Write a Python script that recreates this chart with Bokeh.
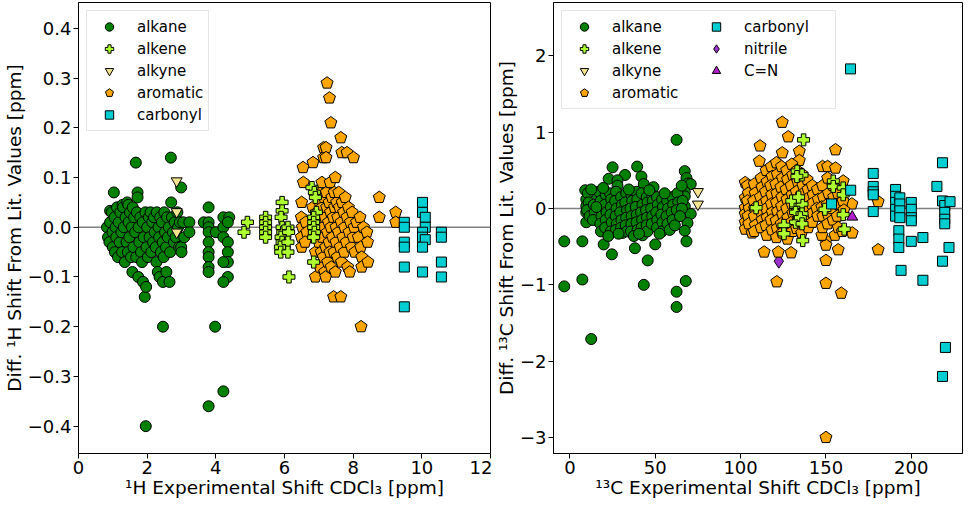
from bokeh.plotting import figure
from bokeh.layouts import row
from bokeh.models import (ColumnDataSource, Span, FixedTicker, CustomJSTickFormatter,
                          Legend, LegendItem, Range1d)
from bokeh.embed import file_html
from bokeh.resources import INLINE

FONT = "DejaVu Sans"

# ---------------- 1H panel data: (experimental shift, difference) ----------------
h_alkane = [(0.83,0.00),(0.86,-0.02),(0.9,-0.03),(0.92,0.01),(0.92,0.033),(0.97,0.03),(0.99,-0.01),(1.0,-0.04),
 (1.03,0.07),(1.05,0.02),(1.06,-0.05),(1.08,0.0),(1.1,-0.02),(1.12,0.04),(1.15,-0.06),(1.17,0.01),(1.2,-0.03),
 (1.22,0.03),(1.25,-0.01),(1.27,-0.05),(1.28,0.045),(1.3,0.04),(1.32,0.0),(1.35,-0.07),(1.37,0.02),(1.4,-0.03),
 (1.42,0.05),(1.44,-0.05),(1.45,0.045),(1.46,0.01),(1.48,-0.02),(1.5,0.03),(1.53,-0.06),(1.55,0.0),(1.57,-0.09),
 (1.58,0.04),(1.6,-0.04),(1.62,0.02),(1.65,-0.01),(1.67,0.13),(1.68,-0.06),(1.7,0.03),(1.72,0.07),(1.72,0.06),
 (1.74,-0.1),(1.75,0.0),(1.77,-0.03),(1.8,0.02),(1.82,-0.05),(1.85,-0.07),(1.87,0.01),(1.88,-0.11),(1.9,-0.02),
 (1.93,-0.14),(1.95,0.03),(1.97,-0.12),(1.98,-0.04),(2.0,0.0),(2.02,-0.06),(2.05,0.02),(2.07,-0.02),(2.1,0.03),
 (2.12,-0.05),(2.15,0.01),(2.17,-0.03),(2.2,0.02),(2.22,-0.01),(2.25,-0.04),(2.27,-0.07),(2.28,0.03),(2.31,-0.09),
 (2.33,0.0),(2.35,-0.02),(2.36,-0.1),(2.38,0.02),(2.4,-0.05),(2.43,0.01),(2.45,-0.03),(2.46,-0.11),(2.48,-0.06),
 (2.5,0.03),(2.52,-0.01),(2.55,-0.04),(2.56,-0.09),(2.58,0.02),(2.6,-0.02),(2.63,0.0),(2.65,-0.11),(2.67,-0.05),
 (2.69,0.14),(2.7,0.05),(2.72,0.02),(2.75,-0.01),(2.78,-0.03),(2.8,0.01),(2.83,-0.02),(2.88,0.03),(2.9,0.0),
 (2.93,-0.04),(2.95,0.01),(2.99,0.08),(2.99,-0.04),(3.0,-0.05),(3.05,0.01),(3.08,-0.02),(3.23,0.01),(3.23,-0.01),
 (3.65,0.01),(3.79,0.04),(3.79,0.01),(3.79,0.0),(3.79,-0.01),(3.79,-0.03),(3.79,-0.05),(3.79,-0.06),(3.79,-0.08),
 (3.79,-0.09),(4.0,-0.01),(4.22,0.02),(4.39,0.02),(4.22,0.0),(4.35,0.01),(4.22,-0.02),(4.35,-0.03),(4.35,-0.05),
 (4.35,-0.07),(4.22,-0.07),(4.35,-0.10),(4.22,-0.11),
 (2.46,-0.2),(3.98,-0.2),(1.96,-0.4),(3.79,-0.36),(4.22,-0.33)]

h_alkene = [(4.92,0.01),(4.82,-0.01),(5.45,0.02),(5.45,0.01),(5.45,0.0),(5.45,-0.01),(5.45,-0.02),
 (5.93,0.05),(5.93,0.033),(5.9,0.02),(5.93,0.0),(5.95,-0.01),(5.9,-0.02),(5.93,-0.03),(5.88,-0.04),(5.89,-0.05),
 (6.1,0.0),(6.12,-0.01),(6.1,-0.03),(6.1,-0.05),(6.13,-0.1),(6.8,0.08),(6.87,0.07),(6.9,0.06),(6.93,0.03),
 (6.85,0.02),(6.85,0.01),(6.85,0.0),(6.87,-0.01),(6.85,-0.02),(6.85,-0.07)]

h_alkyne = [(2.86,0.093),(2.86,0.031),(2.86,-0.01)]

h_aromatic = [(6.5,0.05),(6.49,0.02),(6.52,0.0),(6.49,-0.02),(6.5,-0.04),(6.55,0.09),(6.54,0.12),(6.62,0.01),
 (6.65,-0.01),(6.6,-0.03),(6.82,0.04),(6.83,0.13),(6.9,-0.05),(6.9,-0.1),(6.95,0.03),(6.97,0.01),(6.98,-0.01),
 (7.0,-0.03),(7.0,0.07),(7.02,0.05),(7.03,-0.08),(7.05,0.02),(7.07,-0.05),(7.09,0.09),(7.1,0.04),(7.1,-0.02),
 (7.12,0.0),(7.13,-0.06),(7.14,0.16),(7.14,0.14),(7.15,0.06),(7.17,-0.09),(7.18,0.02),(7.2,-0.04),(7.21,0.16),
 (7.21,0.14),(7.2,-0.1),(7.22,0.07),(7.23,0.04),(7.24,0.29),(7.25,-0.01),(7.26,-0.07),(7.28,0.01),(7.3,0.05),
 (7.31,0.26),(7.3,-0.03),(7.32,-0.05),(7.33,0.09),(7.34,0.03),(7.35,0.21),(7.35,0.0),(7.36,-0.08),(7.38,0.06),
 (7.4,-0.02),(7.42,0.02),(7.43,-0.14),(7.44,-0.05),(7.45,0.07),(7.46,0.04),(7.48,0.10),(7.48,-0.09),(7.5,0.0),
 (7.5,-0.03),(7.52,0.05),(7.54,-0.06),(7.55,0.02),(7.57,-0.01),(7.58,0.07),(7.6,0.04),(7.62,-0.04),(7.64,0.18),
 (7.64,-0.14),(7.65,0.01),(7.66,-0.07),(7.67,0.15),(7.68,0.05),(7.7,-0.02),(7.72,0.03),(7.74,-0.05),(7.75,0.0),
 (7.77,0.06),(7.8,-0.03),(7.82,0.15),(7.82,0.02),(7.84,-0.08),(7.86,0.04),(7.88,-0.01),(7.9,-0.09),(7.92,0.01),
 (7.95,-0.04),(7.97,0.03),(8.0,-0.02),(8.01,0.14),(8.03,0.0),(8.05,-0.05),(8.1,0.01),(8.15,-0.02),(8.2,0.02),
 (8.22,-0.04),(8.25,-0.06),(8.25,-0.08),(8.23,-0.2),(8.3,0.0),(8.4,-0.01),(8.42,-0.03),(8.43,-0.07),
 (8.76,0.06),(8.76,0.02),(9.24,0.03),(9.24,0.01)]

h_carbonyl = [(9.49,0.01),(9.49,0.0),(9.49,-0.03),(9.49,-0.04),(9.49,-0.08),(9.49,-0.16),(10.02,0.05),
 (10.02,0.03),(10.1,0.02),(10.1,0.0),(10.02,-0.01),(10.02,-0.02),(10.1,-0.025),(10.02,-0.04),(10.02,-0.09),
 (10.57,-0.01),(10.57,-0.02),(10.57,-0.07),(10.57,-0.10)]

# ---------------- 13C panel data ----------------
c_alkane = [(62.5,0.90),(25,0.54),(39.4,0.55),(22.7,0.39),(32.3,0.44),(27.9,0.37),(27.9,0.30),(41.9,0.42),
 (43.3,0.32),(49,0.28),(67.3,0.49),(68.3,0.40),(69.3,0.33),(70.8,0.32),(9.0,0.24),(9.6,0.12),(9.6,0.03),
 (9.6,-0.05),(9.6,-0.18),(14.4,0.16),(67.3,0.22),(67.3,0.16),(67.3,0.03),(70.8,-0.07),(68.9,-0.19),(67.3,-0.29),
 (68.3,-0.43),(-3.3,-0.43),(7.3,-0.43),(19.8,-0.47),(24.6,-0.60),(38.1,-0.52),(45.6,-0.68),(50,-0.47),
 (-3.3,-1.02),(7.3,-0.93),(43.3,-1.0),(67.9,-0.95),(62.5,-1.09),(62.5,-1.29),(12.5,-1.71),
 (10.5,0.2),(11,0.08),(10,-0.02),(11.5,-0.1),(14,0.05),(14.5,-0.05),(13.5,-0.15),(17,0.22),(18,0.1),(17.5,0.0),
 (18.5,-0.1),(17.8,-0.2),(18.2,-0.3),(21,0.18),(20.5,0.05),(21.5,-0.05),(21,-0.15),(20.7,-0.25),(23.5,0.2),
 (24.2,0.12),(24,0.02),(23.8,-0.08),(24.5,-0.18),(24,-0.3),(27,0.22),(26.5,0.1),(27.3,0.0),(26.8,-0.1),
 (27.5,-0.2),(27,-0.28),(30,0.15),(30.5,0.05),(29.5,-0.05),(30.2,-0.15),(30,-0.25),(30.8,-0.32),(33,0.2),
 (32.5,0.08),(33.5,-0.02),(33,-0.12),(32.7,-0.22),(33.4,-0.3),(36,0.18),(36.5,0.1),(35.5,0.0),(36.2,-0.1),
 (36,-0.2),(35.8,-0.3),(39,0.22),(39.5,0.12),(38.6,0.02),(39.2,-0.08),(39,-0.18),(39.7,-0.28),(42,0.2),
 (42.5,0.05),(41.7,-0.05),(42.3,-0.15),(42,-0.25),(42.6,-0.35),(45,0.15),(45.5,0.08),(44.6,-0.02),(45.2,-0.12),
 (45,-0.22),(45.4,-0.3),(48,0.18),(48.5,0.1),(47.6,0.0),(48.2,-0.1),(48,-0.2),(51,0.15),(51.5,0.05),(50.6,-0.05),
 (51.2,-0.15),(51,-0.25),(54,0.12),(54.5,0.02),(53.6,-0.08),(54.2,-0.18),(54,-0.3),(57,0.1),(57.5,0.0),
 (56.6,-0.1),(57.2,-0.2),(60,0.15),(60.5,0.05),(59.6,-0.05),(60.2,-0.15),(63,0.2),(63.5,0.08),(62.6,-0.02),
 (65.5,0.3),(66,0.1),(65.6,0.0),(15.5,0.02),(22.5,-0.36),(28.5,-0.33),(34.5,0.25),(37.5,-0.36),(40.5,-0.33),
 (46.5,0.24),(52.5,-0.33),(55.5,0.2),(58.5,-0.28),(61.5,-0.22),(64.5,-0.1),(12.5,0.25),(19.5,0.27)]

c_alkene = [(136.9,0.90),(133.1,0.49),(136,0.44),(133,0.42),(154.3,0.36),(154.3,0.29),(109.1,0.01),(132.2,0.03),
 (136,0.06),(132.2,-0.05),(136,-0.07),(132.2,-0.18),(135,-0.12),(136,-0.2),(125.4,-0.22),(125.4,-0.33),
 (136.4,-0.42),(160.1,0.27),(160.1,0.18),(160.1,-0.08),(160.7,-0.27),(149.4,-0.01),(130,0.1),(134,0.15)]

c_alkyne = [(75,0.22),(75,0.056)]

c_aromatic = [(124.4,1.13),(127.9,0.94),(111.4,0.82),(124.4,0.73),(134.4,0.75),(134.4,0.63),(155.6,0.77),
 (111,0.62),(102.7,0.34),(102.7,0.14),(102.7,0.01),(102.7,-0.07),(102.7,-0.18),(102.7,-0.27),(106.7,-0.32),
 (113.8,-0.57),(122.1,-0.57),(121.2,-0.96),(150,-0.68),(150,-0.98),(159,-1.11),(150,-0.42),(150,-0.48),
 (147.6,-0.35),(155.3,-0.35),(157.2,-0.54),(165.4,-0.32),(165.2,0.06),(180.6,0.09),(180.6,-0.54),(148,0.55),
 (151,0.55),(155.6,0.53),(160.1,0.36),(150,-3.0),(129.6,-0.58),
 (104,0.3),(104.5,0.2),(104,0.1),(105,0.0),(104.3,-0.1),(104.8,-0.2),(108,0.32),(108.5,0.2),(107.6,0.1),
 (108.2,0.0),(108,-0.1),(108.6,-0.22),(108,-0.3),(112,0.4),(112.5,0.28),(111.6,0.15),(112.2,0.05),(112,-0.05),
 (112.6,-0.15),(112,-0.25),(115,0.5),(115.5,0.35),(114.6,0.22),(115.2,0.1),(115,0.0),(115.5,-0.12),(114.8,-0.22),
 (115.3,-0.35),(118,0.55),(118.5,0.42),(117.6,0.3),(118.2,0.18),(118,0.06),(118.6,-0.05),(117.8,-0.15),
 (118.4,-0.28),(121,0.6),(121.5,0.45),(120.6,0.32),(121.2,0.2),(121,0.08),(121.6,-0.04),(120.8,-0.16),
 (121.4,-0.26),(121,-0.38),(124,0.55),(124.5,0.4),(123.6,0.28),(124.2,0.15),(124,0.03),(124.6,-0.08),
 (123.8,-0.2),(124.4,-0.32),(127,0.5),(127.5,0.38),(126.6,0.25),(127.2,0.12),(127,0.0),(127.6,-0.12),
 (126.8,-0.24),(127.4,-0.4),(130,0.58),(130.5,0.44),(129.6,0.3),(130.2,0.18),(130,0.06),(130.6,-0.06),
 (129.8,-0.18),(130.4,-0.3),(133,0.5),(133.5,0.35),(132.6,0.22),(133.2,0.1),(133,-0.02),(133.6,-0.14),
 (132.8,-0.26),(136,0.45),(136.5,0.3),(135.6,0.18),(136.2,0.05),(136,-0.08),(136.6,-0.2),(135.8,-0.32),
 (139,0.38),(139.5,0.25),(138.6,0.12),(139.2,0.0),(139,-0.12),(139.6,-0.25),(142,0.3),(142.5,0.18),(141.6,0.06),
 (142.2,-0.06),(142,-0.18),(145,0.25),(145.5,0.12),(144.6,0.0),(145.2,-0.1),(148,0.3),(148.5,0.15),(147.6,0.02),
 (148.2,-0.1),(148,-0.25),(151,0.4),(151.5,0.2),(150.6,0.05),(151.2,-0.08),(151,-0.2),(154,0.3),(154.5,0.15),
 (153.6,0.0),(154.2,-0.15),(157,0.2),(157.5,0.05),(156.6,-0.1),(157.2,-0.25),(160,0.1),(160.5,-0.02),(159.6,-0.3)]

c_carbonyl = [(164.5,0.24),(153.3,0.06),(177.7,0.46),(177.7,0.29),(177.7,0.22),(177.7,0.18),(177.7,-0.04),
 (190.8,0.25),(190.8,0.16),(190.8,0.08),(190.8,-0.01),(190.8,-0.1),(193.3,0.14),(193.3,0.06),(193.3,-0.03),
 (193.3,-0.12),(200,0.08),(200,-0.01),(200,-0.12),(200,-0.16),(192.7,-0.29),(192.7,-0.40),(192.7,-0.51),
 (200,-0.43),(206.8,-0.38),(194,-0.81),(206.8,-0.94),(218.3,0.6),(215,0.29),(218.3,0.10),(219.6,0.04),
 (219.6,-0.05),(219.6,-0.14),(219.6,-0.2),(222.7,0.09),(222.1,-0.51),(218.3,-0.69),(164.4,1.83),(220,-1.82),
 (218.3,-2.2)]

c_nitrile = [(116.3,0.27),(117.7,-0.09),(122.4,-0.69)]
c_cn = [(165.4,-0.11)]

h_xticks = [0, 2, 4, 6, 8, 10, 12]
h_yticks = [-0.4, -0.3, -0.2, -0.1, 0.0, 0.1, 0.2, 0.3, 0.4]
c_xticks = [0, 50, 100, 150, 200]
c_yticks = [-3, -2, -1, 0, 1, 2]

STYLES = {
    "alkane":   dict(kind="scatter", marker="circle", size=11, color="#008000"),
    "alkene":   dict(kind="scatter", marker="plus", size=12, color="#adff2f"),
    "alkyne":   dict(kind="scatter", marker="inverted_triangle", size=11, color="#f3e58f"),
    "aromatic": dict(kind="ngon", size=6.3, color="#ffa500"),
    "carbonyl": dict(kind="scatter", marker="square", size=10, color="#00ced1"),
    "nitrile":  dict(kind="scatter", marker="diamond", size=14, color="#9932cc"),
    "C=N":      dict(kind="scatter", marker="triangle", size=11, color="#b21fcc"),
}


def src(pairs):
    return ColumnDataSource(dict(x=[a for a, b in pairs], y=[b for a, b in pairs]))


def draw(p, name, pairs):
    st = STYLES[name]
    s = src(pairs)
    if st["kind"] == "ngon":
        r = p.ngon(x="x", y="y", radius=st["size"], radius_units="screen", n=5, angle=0,
                   fill_color=st["color"], line_color="black", line_width=1, source=s)
    else:
        r = p.scatter(x="x", y="y", marker=st["marker"], size=st["size"], fill_color=st["color"],
                      line_color="black", line_width=1, source=s)
    return LegendItem(label=name, renderers=[r])


def base(width, height, xr, yr, xticks, yticks, xlabel, ylabel, yfmt, bl):
    p = figure(width=width, height=height, x_range=Range1d(*xr), y_range=Range1d(*yr),
               output_backend="svg", toolbar_location=None, min_border_top=2,
               min_border_left=bl, min_border_right=2, min_border_bottom=44)
    p.grid.visible = False
    p.outline_line_color = "black"
    p.outline_line_width = 1
    p.background_fill_color = "white"
    p.xaxis.ticker = FixedTicker(ticks=xticks)
    p.yaxis.ticker = FixedTicker(ticks=yticks)
    p.yaxis.formatter = CustomJSTickFormatter(code=yfmt)
    p.xaxis.formatter = CustomJSTickFormatter(code="return tick.toFixed(0).replace('-', '\u2212');")
    for ax in (p.xaxis[0], p.yaxis[0]):
        ax.axis_line_color = "black"
        ax.major_tick_line_color = "black"
        ax.major_tick_out = 5
        ax.major_tick_in = 0
        ax.minor_tick_line_color = None
        ax.major_label_text_font = FONT
        ax.major_label_text_font_size = "18px"
        ax.major_label_text_color = "black"
        ax.axis_label_text_font = FONT
        ax.axis_label_text_font_size = "18.5px"
        ax.axis_label_text_font_style = "normal"
        ax.axis_label_text_color = "black"
        ax.major_label_standoff = 2
        ax.axis_label_standoff = 0
    p.xaxis.axis_label = xlabel
    p.yaxis.axis_label = ylabel
    p.add_layout(Span(location=0, dimension="width", line_color="#808080", line_width=1.6, level="underlay"))
    return p


H = 500
p1 = base(492, H, (0, 12), (-0.455, 0.452), h_xticks, h_yticks,
          "\u00b9H Experimental Shift CDCl\u2083 [ppm]",
          "Diff. \u00b9H Shift From Lit. Values [ppm]",
          "return tick.toFixed(1).replace('-', '\u2212');", 70)
p2 = base(472, H, (-9.6, 230), (-3.21, 2.70), c_xticks, c_yticks,
          "\u00b9\u00b3C Experimental Shift CDCl\u2083 [ppm]",
          "Diff. \u00b9\u00b3C Shift From Lit. Values [ppm]",
          "return tick.toFixed(0).replace('-', '\u2212');", 61)

items1 = {}
for name, data in [("alkane", h_alkane), ("alkyne", h_alkyne), ("aromatic", h_aromatic),
                   ("alkene", h_alkene), ("carbonyl", h_carbonyl)]:
    items1[name] = draw(p1, name, data)

items2 = {}
for name, data in [("alkane", c_alkane), ("alkyne", c_alkyne), ("nitrile", c_nitrile),
                   ("aromatic", c_aromatic), ("alkene", c_alkene), ("carbonyl", c_carbonyl),
                   ("C=N", c_cn)]:
    items2[name] = draw(p2, name, data)


def style_legend(lg):
    lg.location = "top_left"
    lg.margin = 8
    lg.padding = 5
    lg.spacing = 1
    lg.glyph_width = 34
    lg.glyph_height = 21
    lg.label_height = 18
    lg.label_standoff = 11
    lg.label_text_font = FONT
    lg.label_text_font_size = "15px"
    lg.label_text_color = "black"
    lg.border_line_color = "#cccccc"
    lg.border_line_width = 1
    lg.background_fill_alpha = 0.85


lg1 = Legend(items=[items1[k] for k in ["alkane", "alkene", "alkyne", "aromatic", "carbonyl"]])
style_legend(lg1)
lg1.label_width = 65
p1.add_layout(lg1)

lg2 = Legend(items=[items2[k] for k in ["alkane", "alkene", "alkyne", "aromatic", "carbonyl", "nitrile", "C=N"]],
             nrows=4)
style_legend(lg2)
lg2.label_width = 86
p2.add_layout(lg2)

layout = row(p1, p2)
open("out.html", "w").write(file_html(layout, INLINE))
